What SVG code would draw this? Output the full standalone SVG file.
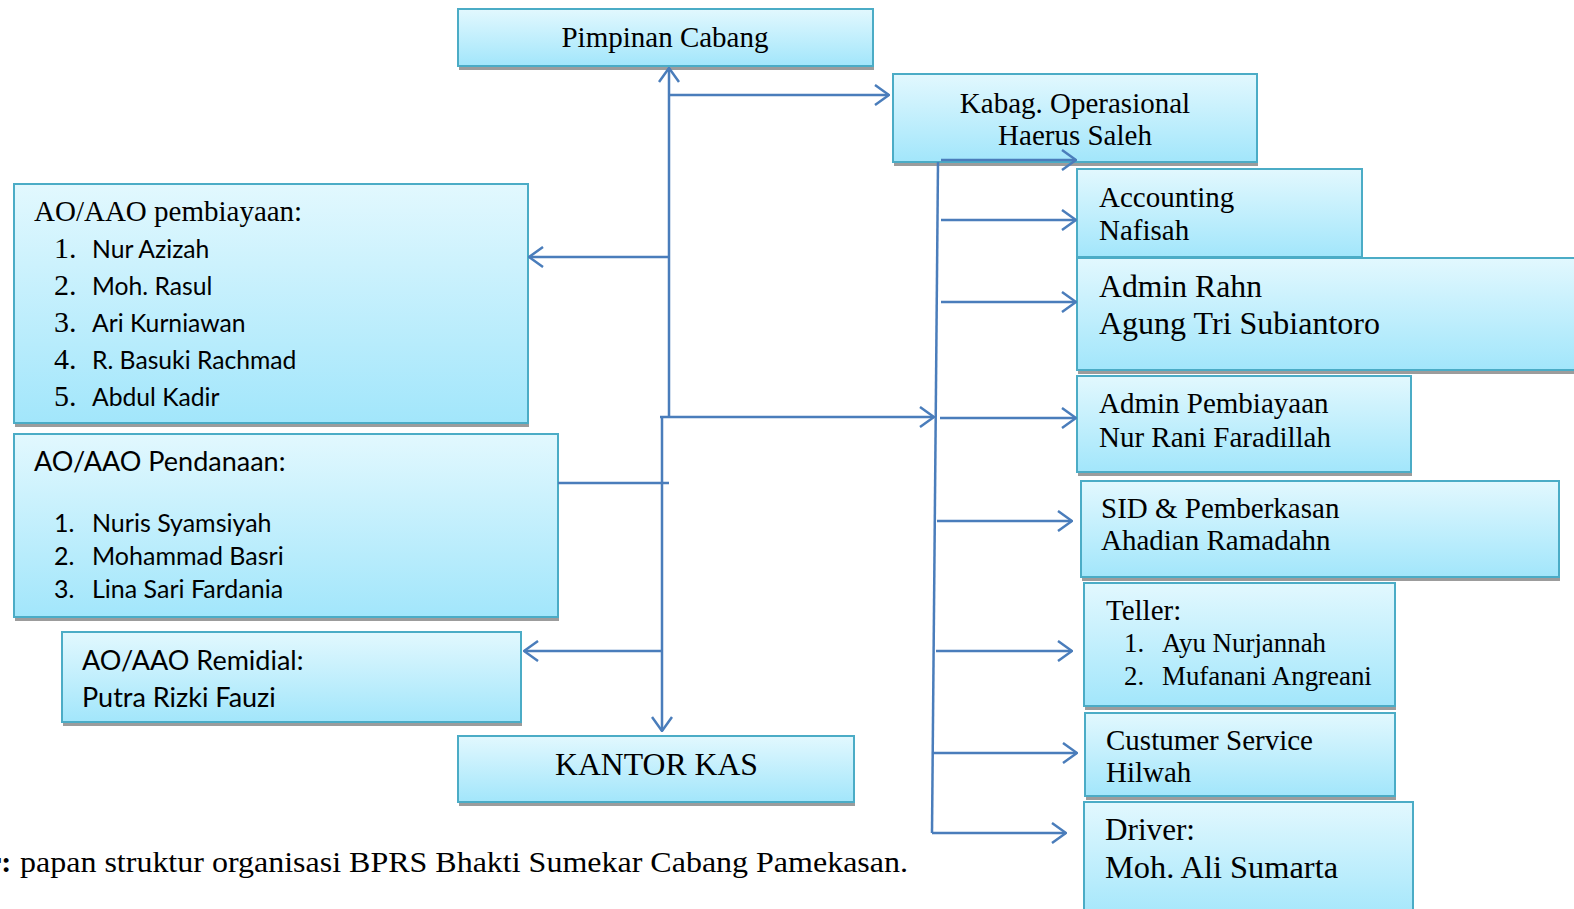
<svg xmlns="http://www.w3.org/2000/svg" width="1574" height="909" viewBox="0 0 1574 909">
<defs>
<linearGradient id="g" x1="0" y1="0" x2="0" y2="1">
<stop offset="0" stop-color="#e2f8fe"/>
<stop offset="1" stop-color="#a2e6fb"/>
</linearGradient>
<marker id="a" viewBox="0 0 16 22" refX="15" refY="11" markerWidth="16" markerHeight="22" markerUnits="userSpaceOnUse" orient="auto">
<path d="M1,1 L15,11 L1,21" fill="none" stroke="#4a7dbb" stroke-width="2.5"/>
</marker>
</defs>
<style>
.box{fill:url(#g);stroke:#4bacc6;stroke-width:2}
.sh{fill:#9c9c9c}
.s{font-family:"Liberation Serif","Times New Roman",serif;font-size:29px;fill:#000}
.n{font-family:Lato,"Liberation Sans",sans-serif;font-size:24.7px;fill:#000}
.c{stroke:#4a7dbb;stroke-width:2.5;fill:none}
.m{marker-end:url(#a)}
</style>
<rect width="1574" height="909" fill="#fff"/>

<g id="pimpinan">
<rect class="sh" x="459" y="13" width="415" height="57"/>
<rect class="box" x="458" y="9" width="415" height="57"/>
<text class="s" x="665" y="47" text-anchor="middle">Pimpinan Cabang</text>
</g>

<g id="kabag">
<rect class="sh" x="894" y="78" width="364" height="88"/>
<rect class="box" x="893" y="74" width="364" height="88"/>
<text class="s" x="1075" y="113" text-anchor="middle">Kabag. Operasional</text>
<text class="s" x="1075" y="145" text-anchor="middle">Haerus Saleh</text>
</g>

<g id="accounting">
<rect class="sh" x="1078" y="173" width="285" height="88"/>
<rect class="box" x="1077" y="169" width="285" height="88"/>
<text class="s" x="1099" y="207">Accounting</text>
<text class="s" x="1099" y="240">Nafisah</text>
</g>

<g id="adminrahn">
<rect class="sh" x="1078" y="262" width="520" height="112"/>
<rect class="box" x="1077" y="258" width="520" height="112"/>
<text class="s" x="1099" y="297" style="font-size:31.5px" textLength="163" lengthAdjust="spacingAndGlyphs">Admin Rahn</text>
<text class="s" x="1099" y="334" style="font-size:31.5px" textLength="281" lengthAdjust="spacingAndGlyphs">Agung Tri Subiantoro</text>
</g>

<g id="adminpembiayaan">
<rect class="sh" x="1078" y="380" width="334" height="96"/>
<rect class="box" x="1077" y="376" width="334" height="96"/>
<text class="s" x="1099" y="413">Admin Pembiayaan</text>
<text class="s" x="1099" y="447">Nur Rani Faradillah</text>
</g>

<g id="sid">
<rect class="sh" x="1082" y="485" width="478" height="96"/>
<rect class="box" x="1081" y="481" width="478" height="96"/>
<text class="s" x="1101" y="518">SID &amp; Pemberkasan</text>
<text class="s" x="1101" y="550">Ahadian Ramadahn</text>
</g>

<g id="teller">
<rect class="sh" x="1085" y="587" width="311" height="123"/>
<rect class="box" x="1084" y="583" width="311" height="123"/>
<text class="s" x="1106" y="620">Teller:</text>
<text class="s" x="1124" y="652" style="font-size:26.9px">1.</text>
<text class="s" x="1162" y="652" style="font-size:26.9px">Ayu Nurjannah</text>
<text class="s" x="1124" y="685" style="font-size:26.9px">2.</text>
<text class="s" x="1162" y="685" style="font-size:26.9px">Mufanani Angreani</text>
</g>

<g id="cs">
<rect class="sh" x="1086" y="717" width="310" height="83"/>
<rect class="box" x="1085" y="713" width="310" height="83"/>
<text class="s" x="1106" y="750">Custumer Service</text>
<text class="s" x="1106" y="782">Hilwah</text>
</g>

<g id="driver">
<rect class="sh" x="1085" y="806" width="329" height="120"/>
<rect class="box" x="1084" y="802" width="329" height="120"/>
<text class="s" x="1105" y="840" style="font-size:32px" textLength="90" lengthAdjust="spacingAndGlyphs">Driver:</text>
<text class="s" x="1105" y="878" style="font-size:32px" textLength="233" lengthAdjust="spacingAndGlyphs">Moh. Ali Sumarta</text>
</g>

<g id="pembiayaan">
<rect class="sh" x="15" y="188" width="514" height="239"/>
<rect class="box" x="14" y="184" width="514" height="239"/>
<text class="s" x="34" y="221">AO/AAO pembiayaan:</text>
<text class="s" x="54" y="258" style="font-size:30px">1.</text>
<text class="n" x="92" y="258">Nur Azizah</text>
<text class="s" x="54" y="295" style="font-size:30px">2.</text>
<text class="n" x="92" y="295">Moh. Rasul</text>
<text class="s" x="54" y="332" style="font-size:30px">3.</text>
<text class="n" x="92" y="332">Ari Kurniawan</text>
<text class="s" x="54" y="369" style="font-size:30px">4.</text>
<text class="n" x="92" y="369">R. Basuki Rachmad</text>
<text class="s" x="54" y="406" style="font-size:30px">5.</text>
<text class="n" x="92" y="406">Abdul Kadir</text>
</g>

<g id="pendanaan">
<rect class="sh" x="15" y="438" width="544" height="183"/>
<rect class="box" x="14" y="434" width="544" height="183"/>
<text class="n" x="34" y="471" style="font-size:27px">AO/AAO Pendanaan:</text>
<text class="n" x="54" y="532" style="font-size:25px">1.</text>
<text class="n" x="92" y="532" style="font-size:25px">Nuris Syamsiyah</text>
<text class="n" x="54" y="565" style="font-size:25px">2.</text>
<text class="n" x="92" y="565" style="font-size:25px">Mohammad Basri</text>
<text class="n" x="54" y="598" style="font-size:25px">3.</text>
<text class="n" x="92" y="598" style="font-size:25px">Lina Sari Fardania</text>
</g>

<g id="remidial">
<rect class="sh" x="63" y="636" width="459" height="90"/>
<rect class="box" x="62" y="632" width="459" height="90"/>
<text class="n" x="82" y="670" style="font-size:27px">AO/AAO Remidial:</text>
<text class="n" x="82" y="707" style="font-size:27px">Putra Rizki Fauzi</text>
</g>

<g id="kantorkas">
<rect class="sh" x="459" y="740" width="396" height="66"/>
<rect class="box" x="458" y="736" width="396" height="66"/>
<text class="s" x="555" y="775" style="font-size:31.5px" textLength="203" lengthAdjust="spacingAndGlyphs">KANTOR KAS</text>
</g>

<g id="conn">
<line class="c m" x1="669" y1="417" x2="669" y2="68"/>
<line class="c m" x1="669" y1="95" x2="889" y2="95"/>
<line class="c m" x1="669" y1="257" x2="529" y2="257"/>
<line class="c" x1="558" y1="483" x2="669" y2="483"/>
<line class="c m" x1="660" y1="417" x2="934" y2="417"/>
<line class="c m" x1="662" y1="416" x2="662" y2="731"/>
<line class="c m" x1="662" y1="651" x2="524" y2="651"/>
<line class="c" x1="938" y1="162" x2="932" y2="833"/>
<line class="c m" x1="941" y1="160" x2="1076" y2="160"/>
<line class="c m" x1="941" y1="220" x2="1076" y2="220"/>
<line class="c m" x1="941" y1="302" x2="1076" y2="302"/>
<line class="c m" x1="940" y1="418" x2="1076" y2="418"/>
<line class="c m" x1="937" y1="521" x2="1072" y2="521"/>
<line class="c m" x1="936" y1="651" x2="1072" y2="651"/>
<line class="c m" x1="933" y1="753" x2="1077" y2="753"/>
<line class="c m" x1="932" y1="833" x2="1066" y2="833"/>
</g>

<text class="s" x="-12" y="872" style="font-size:30px;font-weight:bold">r:</text>
<text class="s" x="20" y="872" style="font-size:30px" textLength="888" lengthAdjust="spacingAndGlyphs">papan struktur organisasi BPRS Bhakti Sumekar Cabang Pamekasan.</text>
</svg>
